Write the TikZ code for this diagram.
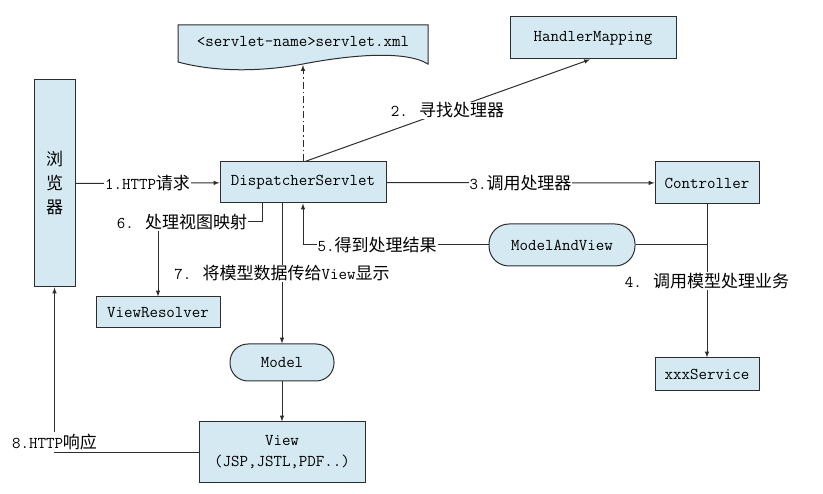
\documentclass[tikz,border=0pt]{standalone}
\usepackage{fontspec}
\newfontfamily\cjk[Scale=1.03]{Noto Sans CJK SC}
\usetikzlibrary{shapes, arrows, positioning, calc}
\definecolor{boxblue}{RGB}{212,233,241}
\definecolor{linegray}{RGB}{45,45,45}

\begin{document}
\begin{tikzpicture}[x=1pt, y=-1pt, font=\fontsize{16.5}{21}\selectfont\ttfamily,
    box/.style={draw=linegray, fill=boxblue, line width=1pt, inner sep=2pt},
    pill/.style={box, rounded corners=18pt},
    lbl/.style={fill=white, inner sep=1pt},
    link/.style={draw=linegray, line width=1pt},
    arr/.style={link, -latex}]
    \useasboundingbox (0,0) rectangle (823,494);
    % Config file (document shape)
    \draw[box] (178,25) -- (428,25) -- (428,64)
        .. controls (405,50) and (350,55) .. (303,64)
        .. controls (260,72) and (215,72) .. (178,62) -- cycle;
    \node (xml) at (303,42) {<servlet-name>servlet.xml};
    \coordinate (xmlb) at (303,65);
    % Boxes
    \node[box, minimum width=41pt, minimum height=207pt, align=center,
          font={\fontsize{16.5}{24}\selectfont\cjk}] (browser) at (54.5,183.5) {浏\\览\\器};
    \node[box, minimum width=166pt, minimum height=42pt] (hm) at (593,38) {HandlerMapping};
    \node[box, minimum width=166pt, minimum height=41pt] (ds) at (303,182.5) {DispatcherServlet};
    \node[box, minimum width=104pt, minimum height=42pt] (ctrl) at (707,183) {Controller};
    \node[pill, minimum width=146pt, minimum height=42pt, rounded corners=20pt] (mav) at (562,245) {ModelAndView};
    \node[box, minimum width=104pt, minimum height=33pt] (svc) at (707,374.5) {xxxService};
    \node[box, minimum width=124pt, minimum height=31pt] (vr) at (158,312.5) {ViewResolver};
    \node[pill, minimum width=104pt, minimum height=37pt] (model) at (282,362.5) {Model};
    \node[box, minimum width=166pt, minimum height=61pt, align=center] (view) at (282,452.5)
        {View\\(JSP,JSTL,PDF..)};
    % Connectors
    \draw[arr] (browser) -- node[lbl] {1.HTTP{\cjk 请求}} (ds);
    \draw[link, -latex, dash pattern=on 7pt off 3pt on 1.5pt off 3pt] (ds.north) -- (xmlb);
    \draw[arr] ($(ds.north)+(2,0)$) -- node[lbl] {2. {\cjk 寻找处理器}} ($(hm.south)+(-3,0)$);
    \draw[arr] (ds) -- node[lbl] {3.{\cjk 调用处理器}} (ctrl);
    \draw[arr] (ctrl) -- node[lbl] {4. {\cjk 调用模型处理业务}} (svc);
    \draw[link] (mav.east) -- (mav.east -| ctrl.south);
    \draw[arr] (mav.west) -- node[lbl, pos=0.6] {5.{\cjk 得到处理结果}} (mav.west -| ds.south) -- (ds.south);
    \draw[arr] ($(ds.south)+(-41,0)$) |- node[lbl, pos=0.885] {6. {\cjk 处理视图映射}} (vr.north |- 0,222) -- (vr.north);
    \draw[arr] (model.north |- ds.south) -- node[lbl] {7. {\cjk 将模型数据传给}View{\cjk 显示}} (model);
    \draw[arr] (model) -- (view);
    \draw[arr] (view.west) -- node[lbl, above, pos=1, inner sep=2pt] {8.HTTP{\cjk 响应}} (view.west -| browser.south) -- (browser.south);
\end{tikzpicture}
\end{document}
